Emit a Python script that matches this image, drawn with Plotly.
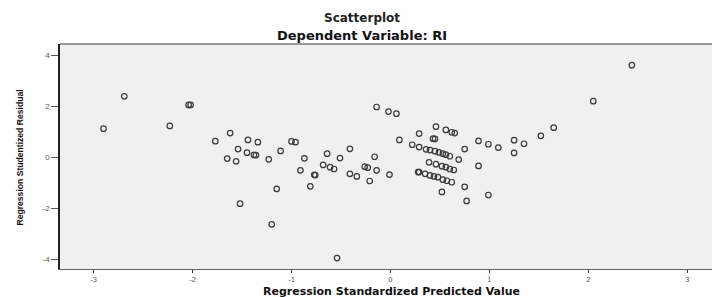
import plotly.graph_objects as go

# Regression Standardized Predicted Value (x) and Studentized Residual (y)
pred = [
    -2.90, -2.69, -2.04, -2.02, -2.23, -1.62, -1.77, -1.44, -1.34, -1.54,
    -1.45, -1.38, -1.36, -1.65, -1.56, -1.23, -1.11, -1.15, -1.52, -1.20,
    -1.00, -0.96, -0.87, -0.64, -0.51, -0.41, -0.16, -0.68, -0.61, -0.57,
    -0.91, -0.77, -0.76, -0.81, -0.54, -0.26, -0.23, -0.14, -0.41, -0.34,
    -0.21, -0.01, -0.14, -0.02, 0.06, 0.09,
    0.46, 0.56, 0.62, 0.65, 0.29, 0.43, 0.45, 0.75,
    0.22, 0.29, 0.36, 0.40, 0.45, 0.49, 0.53, 0.56, 0.60, 0.69,
    0.39, 0.46, 0.52, 0.56, 0.60, 0.64,
    0.28, 0.29, 0.35, 0.40, 0.44, 0.48, 0.53, 0.57, 0.62,
    0.52, 0.75, 0.77, 0.99, 0.89, 0.89, 0.99, 1.09, 1.25, 1.35,
    1.25, 1.52, 1.65, 2.05, 2.44,
]
resid = [
    1.12, 2.39, 2.05, 2.05, 1.23, 0.95, 0.63, 0.68, 0.59, 0.32,
    0.18, 0.09, 0.08, -0.05, -0.16, -0.08, 0.25, -1.24, -1.82, -2.63,
    0.62, 0.59, -0.04, 0.14, -0.03, 0.33, 0.02, -0.30, -0.39, -0.46,
    -0.51, -0.69, -0.70, -1.14, -3.95, -0.37, -0.41, -0.51, -0.65, -0.75,
    -0.93, -0.68, 1.97, 1.79, 1.71, 0.68,
    1.20, 1.07, 0.98, 0.95, 0.93, 0.73, 0.72, 0.32,
    0.49, 0.40, 0.31, 0.28, 0.24, 0.19, 0.14, 0.10, 0.04, -0.09,
    -0.20, -0.27, -0.35, -0.39, -0.46, -0.50,
    -0.58, -0.58, -0.65, -0.71, -0.75, -0.78, -0.88, -0.92, -0.98,
    -1.36, -1.16, -1.71, -1.48, -0.34, 0.64, 0.51, 0.38, 0.67, 0.53,
    0.17, 0.84, 1.16, 2.20, 3.61,
]

x_ticks = [-3, -2, -1, 0, 1, 2, 3]
y_ticks = [-4, -2, 0, 2, 4]

title_main = "Scatterplot"
title_sub = "Dependent Variable: RI"
x_title = "Regression Standardized Predicted Value"
y_title = "Regression Studentized Residual"

fig = go.Figure()
fig.add_trace(go.Scatter(
    x=pred, y=resid, mode="markers",
    marker=dict(symbol="circle-open", size=5.5, color="#3a3a3a",
                line=dict(width=1.2, color="#3a3a3a")),
    hoverinfo="x+y", showlegend=False,
))

tick_font = dict(family="Liberation Sans, Arial, sans-serif", size=8, color="#555555")

fig.update_layout(
    width=712, height=297,
    margin=dict(l=60, r=0, t=44, b=28),
    paper_bgcolor="white",
    plot_bgcolor="#f0f0f0",
    xaxis=dict(
        range=[-3.34, 3.25], tickvals=x_ticks, ticktext=[str(v) for v in x_ticks],
        showgrid=False, zeroline=False, showline=True, linecolor="#666666", linewidth=1,
        ticks="outside", ticklen=3, tickcolor="#333333", tickwidth=1,
        tickfont=dict(family="Liberation Sans, Arial, sans-serif", size=7.5, color="#555555"),
        fixedrange=True,
    ),
    yaxis=dict(
        range=[-4.38, 4.44], tickvals=y_ticks, ticktext=[str(v) for v in y_ticks],
        showgrid=False, zeroline=False, showline=True, linecolor="#222222", linewidth=1.5,
        ticks="outside", ticklen=7, tickcolor="#555555", tickwidth=1,
        tickfont=tick_font, fixedrange=True,
    ),
    shapes=[dict(type="line", xref="paper", yref="paper", x0=0, x1=1, y0=1, y1=1,
                 line=dict(color="#999999", width=2))],
    annotations=[
        dict(text=title_main, xref="paper", yref="paper", x=0.463, y=1.1156,
             xanchor="center", yanchor="middle", showarrow=False,
             font=dict(family="DejaVu Sans, Arial, sans-serif", size=12, color="#222222",
                       weight="bold")),
        dict(text=title_sub, xref="paper", yref="paper", x=0.463, y=1.0356,
             xanchor="center", yanchor="middle", showarrow=False,
             font=dict(family="DejaVu Sans, Arial, sans-serif", size=13, color="#111111",
                       weight="bold")),
        dict(text=x_title, xref="paper", yref="paper", x=0.5077, y=-0.1,
             xanchor="center", yanchor="middle", showarrow=False,
             font=dict(family="DejaVu Sans, Arial, sans-serif", size=11, color="#111111",
                       weight="bold")),
        dict(text=y_title, xref="paper", yref="paper", x=-0.0613, y=0.4956,
             xanchor="center", yanchor="middle", showarrow=False, textangle=-90,
             font=dict(family="Liberation Sans, Arial, sans-serif",
                       size=8.6, color="#111111", weight="bold")),
    ],
)

fig.write_html("out.html", config={"displayModeBar": False},
               post_script="document.body.style.margin='0';")
